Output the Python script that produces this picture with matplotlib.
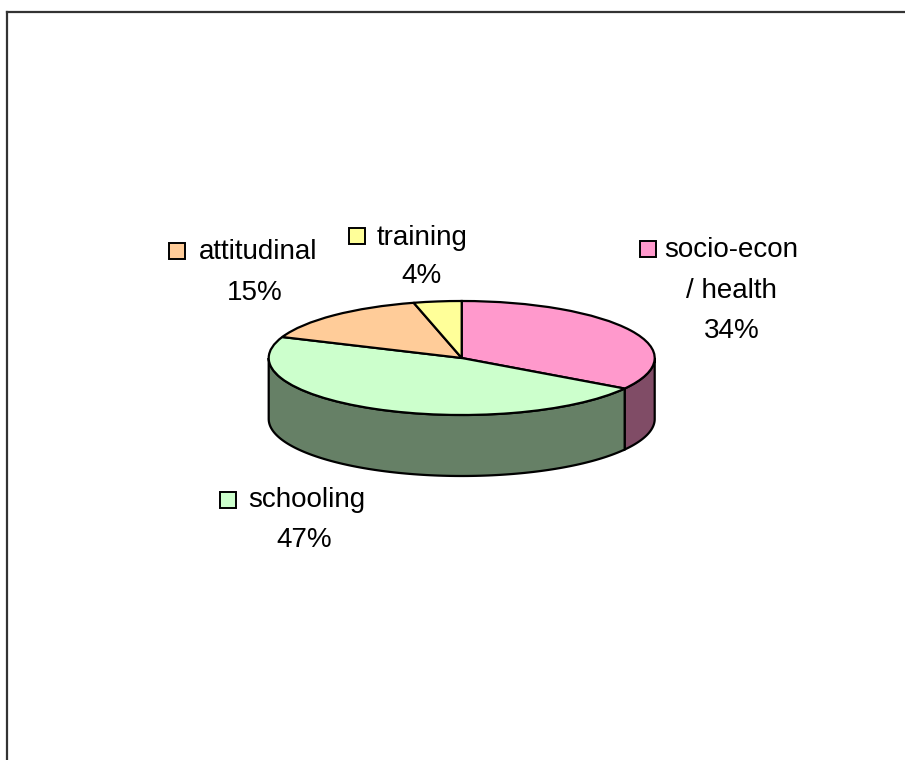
import numpy as np
import matplotlib
matplotlib.use("Agg")
import matplotlib.pyplot as plt
from matplotlib.patches import Rectangle, Polygon

# Survey categories and their shares (percent)
categories = ["socio-econ\n/ health", "schooling", "attitudinal", "training"]
shares = [34, 47, 15, 4]
top_colors = ["#FF99CC", "#CCFFCC", "#FFCC99", "#FFFF99"]
side_colors = ["#804C66", "#668066", "#806633", "#80804C"]

W, H = 905, 760
fig = plt.figure(figsize=(W / 100, H / 100), dpi=100)
fig.patch.set_facecolor("white")

# Ellipse geometry of the pie top (pixels) and thickness of the slab
cx, cy, rx, ry = 461.7, 358.0, 193.0, 57.0
depth = 61.0 / ry
m = 0.04

left_px = cx - (1 + m) * rx
top_px = cy - (1 + m) * ry
w_px = (2 + 2 * m) * rx
h_px = (2 + depth + 2 * m) * ry
ax = fig.add_axes([left_px / W, 1 - (top_px + h_px) / H, w_px / W, h_px / H])

wedges, _ = ax.pie(shares, colors=top_colors, startangle=90, counterclock=False,
                   wedgeprops=dict(edgecolor="black", linewidth=1.6), radius=1.0)
for wdg in wedges:
    wdg.set_zorder(3)
ax.set_aspect("auto")
ax.set_xlim(-1 - m, 1 + m)
ax.set_ylim(-1 - depth - m, 1 + m)
ax.axis("off")

# Visible curved side walls (front half of the slab)
start = 90.0
for share, col in zip(shares, side_colors):
    sweep = 360.0 * share / sum(shares)
    a0, a1 = start - sweep, start
    start = a0
    lo, hi = max(a0, -180.0), min(a1, 0.0)
    if hi <= lo:
        continue
    t = np.radians(np.linspace(lo, hi, 120))
    xs = np.cos(t)
    ys = np.sin(t)
    pts = np.concatenate([np.column_stack([xs, ys]),
                          np.column_stack([xs[::-1], ys[::-1] - depth])])
    ax.add_patch(Polygon(pts, closed=True, facecolor=col, edgecolor="black",
                         linewidth=1.6, zorder=2))

# Overlay in pixel units for labels, legend keys and the frame
ov = fig.add_axes([0, 0, 1, 1], zorder=5)
ov.set_xlim(0, W)
ov.set_ylim(H, 0)
ov.axis("off")
ov.patch.set_alpha(0)

ov.plot([7, 7], [H + 5, 12], color="#333333", lw=1.6, solid_capstyle="projecting")
ov.plot([7, W + 5], [12, 12], color="#333333", lw=1.6, solid_capstyle="projecting")

font = dict(family=["Liberation Sans", "DejaVu Sans"], fontsize=20, color="black")

# (label lines, line centres x, baselines y, key square centre)
label_layout = [
    (["socio-econ", "/ health"], [731, 731, 732], [257, 298, 338], (648, 248.5)),
    (["schooling"], [307, 304], [507, 547], (228, 499.5)),
    (["attitudinal"], [258.5, 255], [259, 300], (176.5, 250.5)),
    (["training"], [422, 421], [245, 283], (356.5, 236)),
]
key = 16
for share, col, (lines, xs, ys, kc) in zip(shares, top_colors, label_layout):
    texts = lines + [f"{share}%"]
    for s, x, y in zip(texts, xs, ys):
        ov.text(x, y, s, ha="center", va="baseline", **font)
    ov.add_patch(Rectangle((kc[0] - key / 2, kc[1] - key / 2), key, key,
                           facecolor=col, edgecolor="black", linewidth=1.4))

fig.savefig("out.png", dpi=100)
